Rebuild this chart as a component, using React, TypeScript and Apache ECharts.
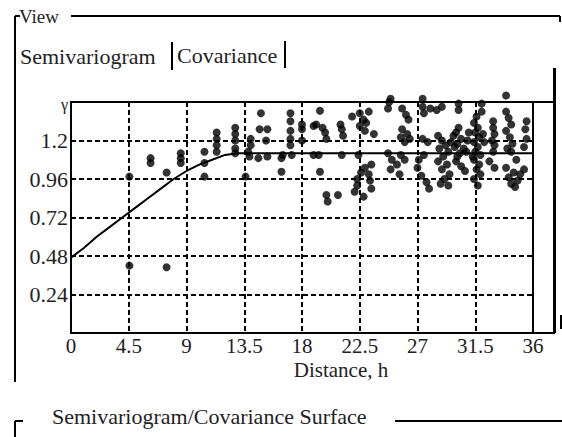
import React, { useEffect, useRef } from "react";
import * as echarts from "echarts";

// Axis settings (tick labels)
const xTickLabels = ["0", "4.5", "9", "13.5", "18", "22.5", "27", "31.5", "36"];
const yTickLabels = ["", "0.24", "0.48", "0.72", "0.96", "1.2", "γ"];

// Fitted model curve
const modelDistance = [0, 1, 2, 3, 4, 5, 6, 7, 8, 9, 10, 11, 12, 13, 36];
const modelGamma = [0.47, 0.53, 0.6, 0.66, 0.72, 0.78, 0.84, 0.9, 0.96, 1.01, 1.05, 1.08, 1.11, 1.12, 1.12];

// Empirical semivariogram points [distance, gamma]
const shortLagPoints: [number, number][] = [
  [4.55, 0.975], [4.55, 0.42], [6.2, 1.06], [6.2, 1.09], [7.45, 1.0], [7.45, 0.41],
  [8.55, 1.06], [8.55, 1.09], [8.55, 1.12], [10.4, 1.13], [10.4, 1.06], [10.4, 0.975],
  [11.35, 1.25], [11.35, 1.21], [11.35, 1.17], [11.35, 1.13],
  [12.8, 1.28], [12.8, 1.24], [12.8, 1.2], [12.8, 1.15], [12.8, 1.12],
  [13.6, 0.975], [13.9, 1.1], [14.0, 1.21], [14.0, 1.17], [13.8, 1.13],
];
const midLagPoints: [number, number][] = [
  [14.8, 1.37], [14.7, 1.27], [15.3, 1.27], [15.2, 1.2], [15.3, 1.1], [14.6, 1.09],
  [16.4, 1.005], [16.4, 1.09], [16.5, 1.11],
  [17.1, 1.37], [17.1, 1.32], [17.1, 1.26], [17.1, 1.21], [17.1, 1.17], [17.2, 1.11],
  [18.0, 1.3], [18.0, 1.27], [18.0, 1.2],
  [19.4, 1.385], [19.1, 1.3], [19.6, 1.28], [18.9, 1.29], [18.9, 1.11], [19.3, 1.11], [19.4, 1.005], [19.8, 1.25], [19.9, 1.21],
  [21.0, 1.3], [21.1, 1.27], [21.1, 1.11], [21.9, 1.35], [22.5, 1.37], [20.8, 0.86], [19.9, 0.86], [20.0, 0.82], [21.2, 1.23],
  [22.1, 0.88], [22.3, 0.92], [22.4, 1.11], [22.3, 0.96], [22.6, 1.0], [22.9, 1.03], [23.2, 0.99], [23.3, 0.95], [23.4, 0.9],
  [22.8, 0.85], [22.5, 1.29], [22.8, 1.33], [23.2, 1.38], [23.0, 1.31], [22.9, 1.26], [23.6, 1.24], [23.4, 1.05],
  [24.7, 1.4], [24.8, 1.44], [24.9, 1.46], [24.7, 1.12], [25.0, 1.08], [25.4, 1.05], [24.9, 1.02], [25.6, 0.99], [26.0, 1.08], [25.7, 1.11],
  [25.8, 1.4], [26.1, 1.36], [26.3, 1.33], [25.8, 1.27], [25.7, 1.22], [26.0, 1.19], [26.4, 1.21], [26.2, 1.24],
];
const longLagPoints: [number, number][] = [
  [27.4, 1.46], [27.4, 1.41], [27.5, 1.37], [28.0, 1.4], [28.5, 1.39], [28.9, 1.41], [27.4, 1.21], [27.8, 1.19],
  [27.0, 1.03], [27.3, 0.98], [27.7, 0.94], [27.9, 0.9], [27.1, 1.08], [27.5, 1.11],
  [28.6, 1.23], [28.9, 1.2], [29.2, 1.17], [28.7, 1.15], [29.4, 1.13], [29.0, 1.1], [28.6, 1.07], [29.3, 1.05],
  [28.9, 1.02], [29.5, 0.99], [29.1, 0.96], [28.8, 0.93], [29.4, 0.92], [29.6, 1.19], [29.8, 1.23], [29.9, 1.16],
  [30.2, 1.43], [30.2, 1.39], [30.2, 1.28], [30.0, 1.25], [30.4, 1.21], [30.1, 1.18], [30.6, 1.15], [30.3, 1.12],
  [30.8, 1.13], [30.0, 1.07], [30.4, 1.04], [30.7, 1.01], [30.1, 1.1], [30.9, 1.2], [31.0, 1.25],
  [32.0, 1.43], [32.0, 1.38], [31.6, 1.35], [31.4, 1.31], [31.7, 1.28], [31.5, 1.25], [31.8, 1.22], [31.4, 1.19],
  [31.7, 1.16], [31.5, 1.13], [31.9, 1.11], [31.4, 1.08], [31.8, 1.05], [31.6, 1.02], [31.9, 0.99], [31.4, 0.96],
  [31.7, 0.92], [32.2, 1.19], [32.1, 1.24], [31.3, 1.1],
  [32.9, 1.32], [32.9, 1.28], [33.0, 1.24], [32.8, 1.2], [33.0, 1.17], [32.9, 1.13], [33.0, 1.03], [32.6, 1.07],
  [33.9, 1.48], [33.9, 1.38], [34.1, 1.34], [34.3, 1.3], [33.9, 1.26], [34.2, 1.22], [34.4, 1.18], [34.0, 1.15],
  [34.3, 1.13], [33.9, 1.03], [34.1, 0.97], [34.3, 0.93], [34.6, 0.91], [34.8, 0.95], [35.0, 0.99], [35.3, 1.02],
  [34.5, 1.0], [34.7, 1.08], [35.5, 1.32], [35.4, 1.27], [35.5, 1.21], [35.3, 1.16],
];

const FONT = "'Liberation Serif', 'DejaVu Serif', serif";
const TEXT = "#222";

export default function App() {
  const ref = useRef<HTMLDivElement>(null);
  useEffect(() => {
    if (!ref.current) return;
    const chart = echarts.init(ref.current, undefined, { renderer: "svg" });
    const xStep = 4.5;
    const yStep = 0.24;
    const points = [...shortLagPoints, ...midLagPoints, ...longLagPoints];
    const line = (x1: number, y1: number, x2: number, y2: number, w = 2) => ({
      type: "line",
      shape: { x1, y1, x2, y2 },
      style: { stroke: "#000", lineWidth: w },
      silent: true,
    });
    const text = (x: number, y: number, t: string, size: number, align = "left") => ({
      type: "text",
      x,
      y,
      style: {
        text: t,
        fill: TEXT,
        font: `${size}px ${FONT}`,
        align,
        verticalAlign: "middle",
        lineHeight: 18,
      },
      silent: true,
    });
    chart.setOption({
      animation: false,
      backgroundColor: "#fff",
      grid: {
        left: 71,
        right: 29,
        top: 102,
        bottom: 104,
        show: true,
        borderColor: "#000",
        borderWidth: 2,
        backgroundColor: "transparent",
      },
      xAxis: {
        type: "value",
        min: 0,
        max: 36,
        interval: xStep,
        axisLine: { show: true, lineStyle: { color: "#000", width: 2 } },
        axisTick: { show: false },
        axisLabel: {
          color: TEXT,
          fontFamily: FONT,
          fontSize: 21,
          lineHeight: 18,
          margin: 4,
          formatter: (v: number) => xTickLabels[Math.round(v / xStep)] ?? "",
        },
        splitLine: { show: true, lineStyle: { color: "#000", type: [5, 3], width: 2 } },
      },
      yAxis: {
        type: "value",
        min: 0,
        max: 1.44,
        interval: yStep,
        axisLine: { show: true, lineStyle: { color: "#000", width: 2 } },
        axisTick: { show: false },
        axisLabel: {
          color: TEXT,
          fontFamily: FONT,
          fontSize: 22,
          margin: 3,
          formatter: (v: number) => {
            const i = Math.round(v / yStep);
            return i === yTickLabels.length - 1 ? `{g|${yTickLabels[i]}}` : yTickLabels[i] ?? "";
          },
          rich: { g: { fontSize: 16, fontFamily: FONT, color: TEXT, padding: [4, 0, 0, 0] } },
        },
        splitLine: { show: true, lineStyle: { color: "#000", type: [5, 3], width: 2 } },
      },
      series: [
        {
          type: "line",
          data: modelDistance.map((d, i) => [d, modelGamma[i]]),
          showSymbol: false,
          lineStyle: { color: "#000", width: 2 },
          z: 3,
        },
        {
          type: "scatter",
          data: points,
          symbol: "circle",
          symbolSize: 8,
          itemStyle: { color: "#000" },
          clip: false,
          z: 4,
        },
      ],
      graphic: [
        // outer View group box
        line(15, 16, 15, 382),
        line(15, 16, 20, 16),
        line(71, 16, 560, 16),
        line(560, 16, 560, 22),
        text(19, 16, "View", 19),
        // tabs
        text(20, 56, "Semivariogram", 22),
        line(172, 42, 172, 70),
        text(177, 55, "Covariance", 22),
        line(285, 41, 285, 68),
        // plot extensions on the right
        line(533, 102, 555, 102),
        line(533, 333, 555, 333),
        line(554.5, 68, 554.5, 333, 3),
        line(561, 315, 561, 329),
        // x axis name
        text(341, 370, "Distance, h", 21, "center"),
        // lower group box
        line(15, 421, 15, 437),
        line(15, 421, 23, 421),
        text(52, 416, "Semivariogram/Covariance Surface", 22),
        line(395, 421, 562, 421),
      ],
    });
    return () => chart.dispose();
  }, []);
  return (
    <div
      ref={ref}
      style={{ position: "fixed", left: 0, top: 0, width: 562, height: 437, background: "#fff" }}
    />
  );
}
